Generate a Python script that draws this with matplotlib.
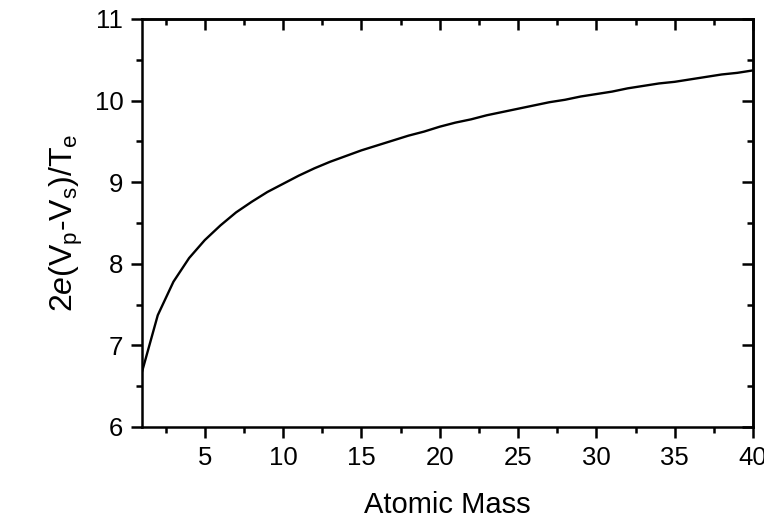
import matplotlib.pyplot as plt
from matplotlib.ticker import MultipleLocator

plt.rcParams['font.family'] = ['Liberation Sans', 'DejaVu Sans']
plt.rcParams['mathtext.fontset'] = 'custom'
plt.rcParams['mathtext.rm'] = 'Liberation Sans'
plt.rcParams['mathtext.it'] = 'Liberation Sans:italic'

# atomic mass (amu) and normalised sheath potential
mass = list(range(1, 41))
potential = [6.68, 7.37, 7.78, 8.07, 8.29, 8.47, 8.63, 8.76, 8.88, 8.98,
             9.08, 9.17, 9.25, 9.32, 9.39, 9.45, 9.51, 9.57, 9.62, 9.68,
             9.73, 9.77, 9.82, 9.86, 9.90, 9.94, 9.98, 10.01, 10.05, 10.08,
             10.11, 10.15, 10.18, 10.21, 10.23, 10.26, 10.29, 10.32, 10.34, 10.37]

fig = plt.figure(figsize=(7.64, 5.23), dpi=100)
ax = fig.add_axes([0.186, 0.1836, 0.7996, 0.7801])
ax.plot(mass, potential, color='black', lw=1.7)

ax.set_xlim(1, 40)
ax.set_ylim(6, 11)
ax.xaxis.set_major_locator(MultipleLocator(5))
ax.xaxis.set_minor_locator(MultipleLocator(2.5))
ax.yaxis.set_major_locator(MultipleLocator(1))
ax.yaxis.set_minor_locator(MultipleLocator(0.5))

for s in ax.spines.values():
    s.set_linewidth(1.8)
ax.tick_params(which='major', direction='out', length=8, width=1.8, labelsize=18.5)
ax.tick_params(axis='x', which='major', pad=6)
ax.tick_params(axis='y', which='major', pad=5.5)
ax.tick_params(which='minor', direction='out', length=4, width=1.8)

# top and right: inward ticks, no labels
top = ax.secondary_xaxis('top')
top.xaxis.set_major_locator(MultipleLocator(5))
top.xaxis.set_minor_locator(MultipleLocator(2.5))
top.tick_params(which='major', direction='in', length=8, width=1.8, labeltop=False)
top.tick_params(which='minor', direction='in', length=4, width=1.8)
top.spines['top'].set_linewidth(1.8)
right = ax.secondary_yaxis('right')
right.yaxis.set_major_locator(MultipleLocator(1))
right.yaxis.set_minor_locator(MultipleLocator(0.5))
right.tick_params(which='major', direction='in', length=8, width=1.8, labelright=False)
right.tick_params(which='minor', direction='in', length=4, width=1.8)
right.spines['right'].set_linewidth(1.8)

ax.set_xlabel('Atomic Mass', fontsize=21, labelpad=15)
ax.set_ylabel(r'2$\mathit{e}$(V$_\mathrm{p}$-V$_\mathrm{s}$)/T$_\mathrm{e}$', fontsize=23, labelpad=7)

fig.savefig('out.png', dpi=100)
